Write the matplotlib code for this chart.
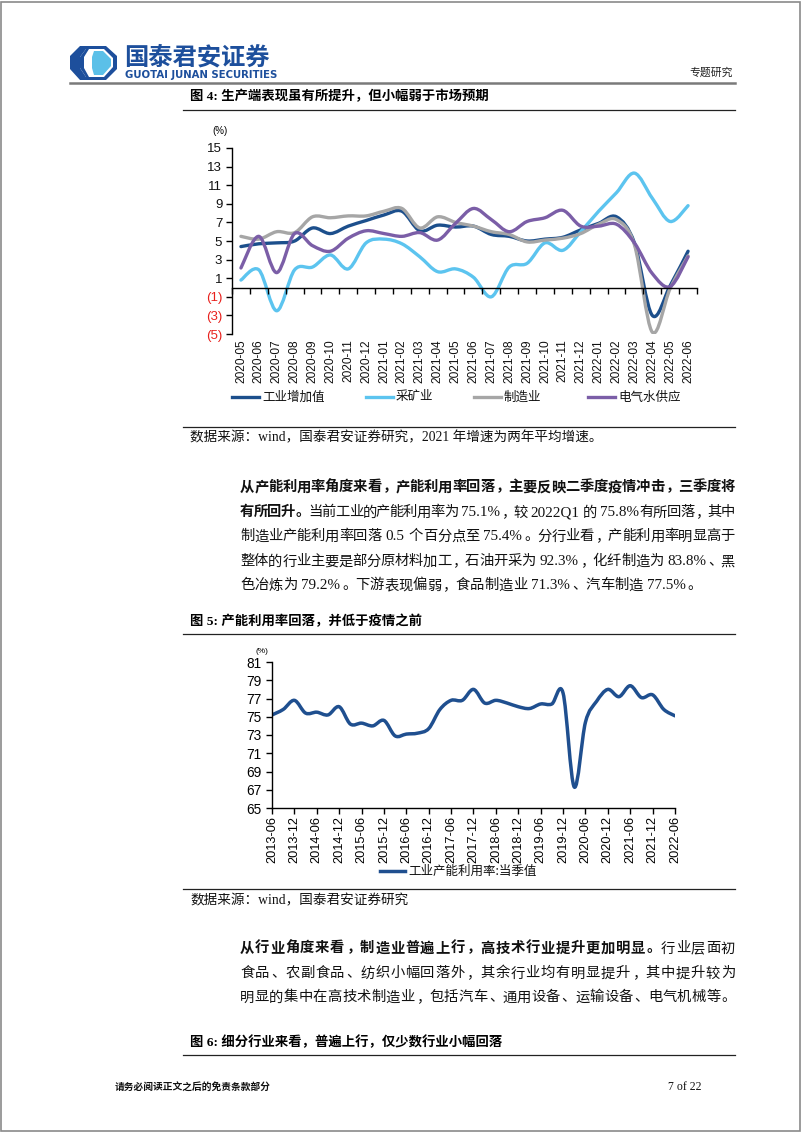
import matplotlib
matplotlib.use('Agg')
import matplotlib.pyplot as plt
import matplotlib.transforms as mtransforms
from matplotlib.path import Path
from matplotlib.patches import PathPatch, Rectangle, Polygon
from matplotlib.lines import Line2D
import numpy as np

# ---------------- data ----------------
months1 = ['2020-05', '2020-06', '2020-07', '2020-08', '2020-09', '2020-10', '2020-11', '2020-12',
           '2021-01', '2021-02', '2021-03', '2021-04', '2021-05', '2021-06', '2021-07', '2021-08',
           '2021-09', '2021-10', '2021-11', '2021-12', '2022-01', '2022-02', '2022-03', '2022-04',
           '2022-05', '2022-06']
industry = [4.4, 4.7, 4.8, 5.0, 6.4, 5.8, 6.6, 7.2, 7.8, 8.2, 6.1, 6.7, 6.5, 6.6, 5.7, 5.5,
            5.0, 5.2, 5.4, 6.2, 6.9, 7.6, 4.8, -3.0, 0.2, 3.9]
mining = [0.8, 1.9, -2.5, 1.9, 2.2, 3.5, 2.0, 4.8, 5.2, 4.7, 3.3, 1.7, 2.0, 1.1, -1.0, 2.2,
          2.6, 4.8, 4.0, 6.0, 8.2, 10.2, 12.3, 9.6, 7.1, 8.8]
manufacturing = [5.5, 5.2, 6.0, 5.9, 7.6, 7.5, 7.7, 7.7, 8.2, 8.5, 6.4, 7.6, 7.0, 6.6, 6.0, 5.7,
                 4.9, 5.1, 5.3, 5.8, 6.8, 7.3, 4.6, -4.8, -0.1, 3.4]
utilities = [2.1, 5.5, 1.6, 5.8, 4.5, 3.9, 5.3, 6.1, 5.8, 5.5, 5.9, 5.1, 6.9, 8.5, 7.3, 6.0,
             7.1, 7.5, 8.3, 6.6, 6.6, 6.8, 4.8, 1.5, 0.1, 3.3]
series1_names = ['工业增加值', '采矿业', '制造业', '电气水供应']
yticks1 = [-5, -3, -1, 1, 3, 5, 7, 9, 11, 13, 15]

quarters = ['2013-06', '2013-09', '2013-12', '2014-03', '2014-06', '2014-09', '2014-12',
            '2015-03', '2015-06', '2015-09', '2015-12', '2016-03', '2016-06', '2016-09',
            '2016-12', '2017-03', '2017-06', '2017-09', '2017-12', '2018-03', '2018-06',
            '2018-09', '2018-12', '2019-03', '2019-06', '2019-09', '2019-12', '2020-03',
            '2020-06', '2020-09', '2020-12', '2021-03', '2021-06', '2021-09', '2021-12',
            '2022-03', '2022-06']
capacity = [75.2, 75.8, 76.8, 75.4, 75.5, 75.2, 76.1, 74.2, 74.3, 74.0, 74.6, 72.9, 73.1,
            73.2, 73.7, 75.8, 76.8, 76.8, 78.0, 76.5, 76.8, 76.5, 76.1, 75.9, 76.4, 76.4,
            77.6, 67.3, 74.4, 76.7, 78.0, 77.2, 78.4, 77.1, 77.4, 75.8, 75.1]
series2_name = '工业产能利用率:当季值'
yticks2 = [65, 67, 69, 71, 73, 75, 77, 79, 81]

# ---------------- page setup ----------------
W, H = 802, 1133
fig = plt.figure(figsize=(W / 100, H / 100), dpi=100)
fig.patch.set_facecolor('white')


def fx(x):
    return x / W


def fy(y):
    return 1 - y / H


CJK = 'Noto Sans CJK SC'
SERIF = ['Liberation Serif', CJK]
SANS = ['Liberation Sans', CJK]
BLUE_LOGO = '#1d4f9c'


def hline(y, x0, x1, color='#222222', lw=0.9):
    fig.add_artist(Line2D([fx(x0), fx(x1)], [fy(y), fy(y)], color=color, lw=lw,
                          transform=fig.transFigure))


def poly(points, color):
    fig.add_artist(Polygon([(fx(a), fy(b)) for a, b in points], closed=True,
                           facecolor=color, edgecolor='none', transform=fig.transFigure))


# page border
fig.add_artist(Rectangle((fx(1), fy(1131)), (800 - 1) / W, (1131 - 2) / H, fill=False,
                         edgecolor='#8a8a8a', lw=1.2, transform=fig.transFigure))

# logo
poly([(80, 46), (106, 46), (117, 56), (117, 69), (106, 80), (80, 80), (70, 69), (70, 56)], BLUE_LOGO)
poly([(86, 49), (104, 49), (113, 58), (113, 67), (104, 77), (86, 77), (80, 68), (80, 57)], 'white')
poly([(94, 51), (103, 51), (111, 59), (111, 66), (103, 75), (94, 75), (92, 68), (92, 57)], '#5bc0e8')
poly([(80, 57), (86, 49), (89, 49), (84, 57), (84, 68), (89, 77), (86, 77), (80, 68)], BLUE_LOGO)

fig.text(fx(124), fy(57), '国泰君安证券', fontsize=17.5, fontweight='bold', color=BLUE_LOGO,
         family=[CJK], ha='left', va='center')
fig.text(fx(125), fy(75), 'GUOTAI JUNAN SECURITIES', fontsize=7.3, fontweight='bold',
         color=BLUE_LOGO, family=['DejaVu Sans'], ha='left', va='center')
fig.text(fx(733), fy(73), '专题研究', fontsize=7.8, color='#222222', family=[CJK],
         ha='right', va='center')
hline(83, 70, 735, color='#7a7a7a', lw=1.8)

# ---------------- paragraph helper ----------------
PUNCT_LEFT = set('，。、：；')


def tokens_of(s):
    toks, buf = [], ''
    for ch in s:
        if ord(ch) < 128 and ch != ' ':
            buf += ch
        else:
            if buf:
                toks.append(buf)
                buf = ''
            toks.append(ch)
    if buf:
        toks.append(buf)
    return toks


def para_line(segs, x0, x1, yc, size, justify=True):
    em = size * 100 / 72
    base = yc + 0.38 * em
    items = []
    for text, bold in segs:
        for tk in tokens_of(text):
            items.append((tk, bold))
    objs, widths = [], []
    for tk, bold in items:
        wt = 'bold' if bold else 'normal'
        if tk == ' ':
            objs.append(None)
            widths.append(0.28 * em)
        elif len(tk) == 1 and ord(tk) >= 128:
            t = fig.text(0, fy(base), tk, fontsize=size, family=[CJK], fontweight=wt,
                         ha='center', va='baseline', color='#111111')
            objs.append(t)
            widths.append(em)
        else:
            t = fig.text(0, fy(base), tk, fontsize=size + 0.6, family=SERIF, fontweight=wt,
                         ha='left', va='baseline', color='#111111')
            objs.append(t)
            widths.append(None)
    r = fig.canvas.get_renderer()
    for k, o in enumerate(objs):
        if widths[k] is None:
            widths[k] = o.get_window_extent(r).width + 1.0
    total = sum(widths)
    gap = (x1 - x0 - total) / (len(items) - 1) if (justify and len(items) > 1) else 0.0
    x = x0
    for (tk, bold), o, w in zip(items, objs, widths):
        if o is not None:
            if tk in PUNCT_LEFT:
                o.set_ha('left')
                o.set_x(fx(x + 0.08 * em))
            elif len(tk) == 1 and ord(tk) >= 128:
                o.set_x(fx(x + w / 2))
            else:
                o.set_x(fx(x))
        x += w + gap


def smooth_line(ax, xs, ys, color, lw):
    xs = np.asarray(xs, float)
    ys = np.asarray(ys, float)
    n = len(xs)
    verts = [(xs[0], ys[0])]
    codes = [Path.MOVETO]
    for i in range(n - 1):
        p0 = np.array([xs[max(i - 1, 0)], ys[max(i - 1, 0)]])
        p1 = np.array([xs[i], ys[i]])
        p2 = np.array([xs[i + 1], ys[i + 1]])
        p3 = np.array([xs[min(i + 2, n - 1)], ys[min(i + 2, n - 1)]])
        c1 = p1 + (p2 - p0) / 6.0
        c2 = p2 - (p3 - p1) / 6.0
        verts += [tuple(c1), tuple(c2), tuple(p2)]
        codes += [Path.CURVE4] * 3
    ax.add_patch(PathPatch(Path(verts, codes), facecolor='none', edgecolor=color, lw=lw,
                           capstyle='round', joinstyle='round'))


# ---------------- figure 4 ----------------
fig.text(fx(190), fy(96), '图 4: 生产端表现虽有所提升，但小幅弱于市场预期', fontsize=9.6,
         fontweight='bold', family=SERIF, ha='left', va='center')
hline(110, 183, 735)

ax1 = fig.add_axes([fx(232), fy(334), fx(697) - fx(232), fy(148) - fy(334)])
x1 = np.arange(len(months1))
colors1 = ['#1c4f8c', '#5cc4ef', '#a6a6a6', '#7b5ea7']
for vals, col in zip([industry, mining, manufacturing, utilities], colors1):
    smooth_line(ax1, x1, vals, col, 2.4)
ax1.set_xlim(-0.5, len(months1) - 0.5)
ax1.set_ylim(min(yticks1), max(yticks1))
for s in ['top', 'right']:
    ax1.spines[s].set_visible(False)
ax1.spines['bottom'].set_position(('data', 0))
for s in ['left', 'bottom']:
    ax1.spines[s].set_linewidth(1.0)
ax1.set_yticks(yticks1)
ax1.set_yticklabels([f'({abs(v)})' if v < 0 else str(v) for v in yticks1])
for lbl, v in zip(ax1.get_yticklabels(), yticks1):
    lbl.set_color('#e8201c' if v < 0 else '#111111')
    lbl.set_family(['Liberation Sans'])
    lbl.set_fontsize(9.5)
ax1.set_xticks(np.arange(-0.5, len(months1), 1.0))
ax1.set_xticklabels([])
ax1.tick_params(axis='x', direction='out', length=4, width=1.0)
ax1.tick_params(axis='y', direction='out', length=4, width=1.0, pad=3)
tr1 = mtransforms.blended_transform_factory(ax1.transData, ax1.transAxes)
for i, m in enumerate(months1):
    ax1.text(i, -0.03, m, transform=tr1, rotation=90, ha='center', va='top', fontsize=8.6,
             family=['Liberation Sans'], color='#111111')
ax1.text(-0.025, 1.09, '(%)', transform=ax1.transAxes, fontsize=7, family=['Liberation Sans'],
         ha='center', va='center')

# legend: key line + label per series, laid out as in the reference
legend_x = [232, 366, 474, 588]
for col, name, lx in zip(colors1, series1_names, legend_x):
    fig.add_artist(Line2D([fx(lx), fx(lx + 27)], [fy(397), fy(397)], color=col, lw=2.4,
                          transform=fig.transFigure))
    fig.text(fx(lx + 30), fy(397), name, fontsize=9, family=[CJK], ha='left', va='center',
             color='#111111')

hline(427, 183, 735)
fig.text(fx(190), fy(438), '数据来源：wind，国泰君安证券研究，2021 年增速为两年平均增速。',
         fontsize=9.8, family=SERIF, ha='left', va='center', color='#111111')

# ---------------- paragraph 1 ----------------
PS = 10.3
para_line([('从产能利用率角度来看，产能利用率回落，主要反映二季度疫情冲击，三季度将', True)], 240, 735, 486, PS)
para_line([('有所回升。', True), ('当前工业的产能利用率为 75.1%，较 2022Q1 的 75.8%有所回落，其中', False)], 240, 735, 511, PS)
para_line([('制造业产能利用率回落 0.5 个百分点至 75.4%。分行业看，产能利用率明显高于', False)], 240, 735, 535, PS)
para_line([('整体的行业主要是部分原材料加工，石油开采为 92.3%，化纤制造为 83.8%、黑', False)], 240, 735, 560, PS)
para_line([('色冶炼为 79.2%。下游表现偏弱，食品制造业 71.3%、汽车制造 77.5%。', False)], 240, 735, 584, PS, justify=False)

# ---------------- figure 5 ----------------
fig.text(fx(190), fy(621), '图 5: 产能利用率回落，并低于疫情之前', fontsize=9.6,
         fontweight='bold', family=SERIF, ha='left', va='center')
hline(634, 183, 735)

ax2 = fig.add_axes([fx(272), fy(808), fx(675) - fx(272), fy(662) - fy(808)])
x2 = np.arange(len(quarters))
smooth_line(ax2, x2, capacity, '#1f4f8f', 2.5)
ax2.set_xlim(0, len(quarters) - 1)
ax2.set_ylim(min(yticks2), max(yticks2))
for s in ['top', 'right']:
    ax2.spines[s].set_visible(False)
for s in ['left', 'bottom']:
    ax2.spines[s].set_linewidth(1.0)
ax2.set_yticks(yticks2)
ax2.set_xticks(x2[::2])
ax2.set_xticklabels(quarters[::2], rotation=90)
ax2.tick_params(axis='both', direction='out', length=4, width=1.0, labelsize=9.8)
for lbl in ax2.get_xticklabels() + ax2.get_yticklabels():
    lbl.set_family(['Liberation Sans'])
ax2.tick_params(axis='x', labelsize=9.2, pad=2)
ax2.text(-0.025, 1.07, '(%)', transform=ax2.transAxes, fontsize=6, family=['Liberation Sans'],
         ha='center', va='center')

fig.add_artist(Line2D([fx(380), fx(405)], [fy(871), fy(871)], color='#1f4f8f', lw=2.5,
                      transform=fig.transFigure))
fig.text(fx(408), fy(871), series2_name, fontsize=9, family=[CJK], ha='left', va='center',
         color='#111111')

hline(889, 183, 735)
fig.text(fx(190), fy(901), '数据来源：wind，国泰君安证券研究', fontsize=9.8, family=SERIF,
         ha='left', va='center', color='#111111')

# ---------------- paragraph 2 ----------------
para_line([('从行业角度来看，制造业普遍上行，高技术行业提升更加明显。', True), ('行业层面初', False)], 240, 735, 947, PS)
para_line([('食品、农副食品、纺织小幅回落外，其余行业均有明显提升，其中提升较为', False)], 240, 735, 972, PS)
para_line([('明显的集中在高技术制造业，包括汽车、通用设备、运输设备、电气机械等。', False)], 240, 735, 996, PS)

# ---------------- figure 6 title ----------------
fig.text(fx(190), fy(1042), '图 6: 细分行业来看，普遍上行，仅少数行业小幅回落', fontsize=9.6,
         fontweight='bold', family=SERIF, ha='left', va='center')
hline(1055, 183, 735)

# ---------------- footer ----------------
fig.text(fx(115), fy(1087), '请务必阅读正文之后的免责条款部分', fontsize=7.0, fontweight='bold',
         family=[CJK], ha='left', va='center', color='#111111')
fig.text(fx(668), fy(1087), '7 of 22', fontsize=8.5, family=['Liberation Serif'], ha='left',
         va='center', color='#111111')

fig.savefig('out.png', dpi=100, facecolor='white')
